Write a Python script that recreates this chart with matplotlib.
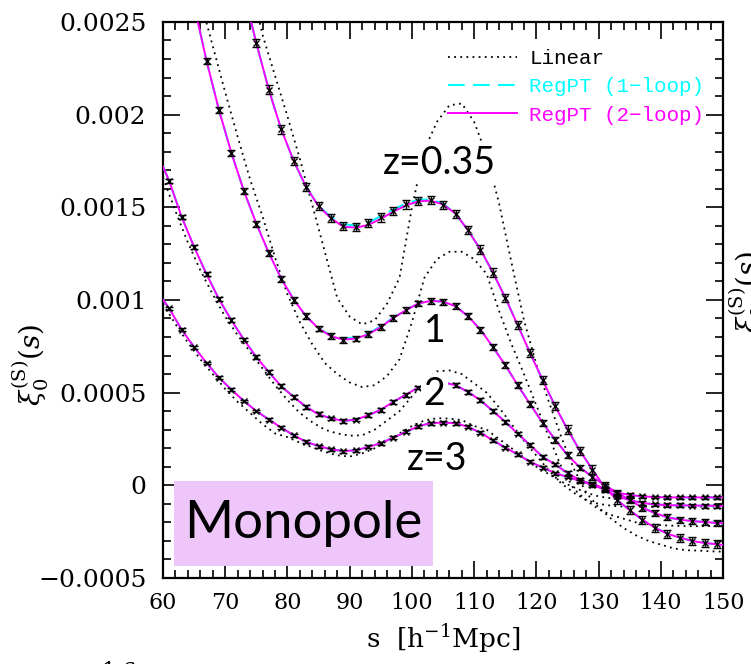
import numpy as np
import matplotlib
matplotlib.use('Agg')
from matplotlib import pyplot as plt
from matplotlib.patches import Rectangle
from matplotlib.ticker import MultipleLocator

# ---- N-body measurements (odd s grid) ----
s_nb_035 = np.arange(75, 150, 2)
xi_nb_035 = [0.002385, 0.002135, 0.00192, 0.00175, 0.00161, 0.001506, 0.00144, 0.0014,
             0.001394, 0.001414, 0.001445, 0.00148, 0.001515, 0.001536, 0.001538, 0.001513,
             0.001466, 0.001376, 0.001272, 0.001148, 0.001012, 0.000863, 0.000712, 0.000567,
             0.000427, 0.000301, 0.000185, 0.000085, -0.000015, -0.00008, -0.000135, -0.000185,
             -0.000228, -0.000261, -0.000282, -0.0003, -0.000311, -0.000318]

s_nb_1 = np.arange(67, 150, 2)
xi_nb_1 = [0.00229, 0.002024, 0.001793, 0.001588, 0.001412, 0.001254, 0.001115, 0.001002,
           0.000912, 0.000846, 0.000804, 0.000786, 0.000792, 0.000815, 0.000854, 0.000903,
           0.000944, 0.000981, 0.000995, 0.000991, 0.000966, 0.000912, 0.00084, 0.000746,
           0.000648, 0.00054, 0.000437, 0.000336, 0.000247, 0.000162, 0.000096, 0.000045,
           0.0, -0.00004, -0.00008, -0.00012, -0.00015, -0.000172, -0.000185, -0.000193,
           -0.000198, -0.000203]

s_nb_2 = np.arange(61, 150, 2)
xi_nb_2 = [0.001642, 0.001448, 0.001286, 0.001139, 0.001004, 0.00089, 0.000786, 0.000692,
           0.000611, 0.000534, 0.000477, 0.000423, 0.000383, 0.000361, 0.000347, 0.000355,
           0.000378, 0.000408, 0.00045, 0.000489, 0.000527, 0.000553, 0.000556, 0.00054,
           0.000504, 0.000459, 0.000401, 0.000342, 0.000279, 0.000216, 0.000153, 0.000113,
           0.000066, 0.000027, 0.0, -0.000023, -0.00006, -0.00008, -0.000095, -0.000103,
           -0.000107, -0.000108, -0.000109, -0.00011, -0.00011]

s_nb_3 = np.arange(61, 150, 2)
xi_nb_3 = [0.000954, 0.00084, 0.000746, 0.00066, 0.000581, 0.000516, 0.000455, 0.000401,
           0.000355, 0.000311, 0.00027, 0.000234, 0.000212, 0.000194, 0.000185, 0.000189,
           0.000207, 0.000228, 0.000257, 0.000288, 0.000318, 0.000336, 0.000338, 0.000336,
           0.000315, 0.000284, 0.000243, 0.000203, 0.000167, 0.000126, 0.000096, 0.000066,
           0.000045, 0.000023, 0.000009, -0.000018, -0.00004, -0.000052, -0.00006, -0.000063,
           -0.000065, -0.000065, -0.000065, -0.000065, -0.000065]

err_035 = 2.2e-5
err_1 = 1.6e-5
err_2 = 1.0e-5
err_3 = 0.8e-5

# ---- RegPT 2-loop (magenta) and 1-loop (cyan) ----
s_m_035 = np.r_[73, np.arange(75, 150, 2), 150]
xi_2l_035 = [0.00266] + xi_nb_035[:7] + [0.001395, 0.00139, 0.001405, 0.001438, 0.001476,
             0.00151, 0.001532, 0.001536, 0.001515] + xi_nb_035[16:] + [-0.000322]
xi_1l_035 = [0.00266] + xi_nb_035[:6] + [0.001448, 0.001408, 0.001402, 0.001418, 0.001452,
             0.001488, 0.00152, 0.00154, 0.001542, 0.00152] + xi_nb_035[16:] + [-0.000322]

s_m_1 = np.r_[65, np.arange(67, 150, 2), 150]
xi_2l_1 = [0.00259] + xi_nb_1 + [-0.000205]
xi_1l_1 = [0.00259] + xi_nb_1[:10] + [0.000808, 0.000792, 0.000798, 0.00082, 0.000858,
           0.000905] + xi_nb_1[16:] + [-0.000205]

s_m_23 = np.r_[60, np.arange(61, 150, 2), 150]
xi_2l_2 = [0.00172] + xi_nb_2 + [-0.00011]
xi_1l_2 = [0.00172] + xi_nb_2 + [-0.00011]
xi_2l_3 = [0.001002] + xi_nb_3 + [-0.000065]
xi_1l_3 = [0.001002] + xi_nb_3 + [-0.000065]

# ---- Linear theory (black dotted, even s grid) ----
s_lin = np.arange(60, 151, 2)
xi_lin_035 = [0.0052, 0.0048, 0.0044, 0.0040, 0.0036, 0.0033, 0.00298, 0.00272, 0.00243,
              0.00221, 0.00199, 0.00176, 0.00151, 0.00126, 0.00101, 0.00091, 0.000868,
              0.00089, 0.00098, 0.00112, 0.0015, 0.00181, 0.00196, 0.00205, 0.00206,
              0.00196, 0.00178, 0.00152, 0.0012, 0.00089, 0.00065, 0.00045, 0.00026,
              0.00009, -0.00004, -0.00012, -0.00018, -0.00023, -0.00027, -0.0003, -0.00032,
              -0.00034, -0.00035, -0.000352, -0.000356, -0.000358]
xi_lin_1 = [0.0036, 0.0033, 0.00298, 0.00262, 0.00237, 0.00212, 0.00188, 0.00165, 0.00145,
            0.00123, 0.00103, 0.00088, 0.00076, 0.00066, 0.0006, 0.000555, 0.00053, 0.00054,
            0.00059, 0.00068, 0.00088, 0.00112, 0.00122, 0.00126, 0.00126, 0.00122, 0.00114,
            0.00094, 0.00076, 0.0006, 0.00043, 0.00026, 0.0001, -0.00002, -0.00008, -0.00013,
            -0.00016, -0.00018, -0.0002, -0.00021, -0.000215, -0.000218, -0.00022, -0.00022,
            -0.00022, -0.00022]
xi_lin_2 = [0.00166, 0.00148, 0.00131, 0.00116, 0.00103, 0.00091, 0.00081, 0.00072, 0.00063,
            0.00054, 0.00046, 0.00039, 0.00034, 0.0003, 0.00028, 0.000268, 0.00027, 0.0003,
            0.00035, 0.0004, 0.00048, 0.00056, 0.000615, 0.00062, 0.0006, 0.00055, 0.0005,
            0.00042, 0.00033, 0.00024, 0.00016, 0.00008, 0.00001, -0.00004, -0.00008, -0.0001,
            -0.00011, -0.000115, -0.000115, -0.000115, -0.000115, -0.000115, -0.000115,
            -0.000115, -0.000115, -0.000115]
xi_lin_3 = [0.00098, 0.00087, 0.00077, 0.00068, 0.0006, 0.00052, 0.00045, 0.00039, 0.00033,
            0.00028, 0.00026, 0.00023, 0.000205, 0.00018, 0.000162, 0.000155, 0.000172, 0.0002,
            0.00024, 0.00028, 0.00032, 0.00035, 0.000362, 0.00036, 0.000352, 0.00032, 0.0003,
            0.00025, 0.0002, 0.00015, 0.0001, 0.00006, 0.00002, -0.00001, -0.00004, -0.00006,
            -0.00007, -0.00007, -0.00007, -0.00007, -0.00007, -0.00007, -0.00007, -0.00007,
            -0.00007, -0.00007]

y_ticks = [-0.0005, 0, 0.0005, 0.001, 0.0015, 0.002, 0.0025]
y_tick_labels = ['\u22120.0005', '0', '0.0005', '0.001', '0.0015', '0.002', '0.0025']
x_ticks = [60, 70, 80, 90, 100, 110, 120, 130, 140, 150]

plt.rcParams['mathtext.fontset'] = 'dejavuserif'

fig = plt.figure(figsize=(7.51, 6.64), dpi=100)
ax = fig.add_axes([0.217, 0.1295, 0.746, 0.8375])

linear_sets = [xi_lin_035, xi_lin_1, xi_lin_2, xi_lin_3]
for i, xi in enumerate(linear_sets):
    ax.plot(s_lin, xi, color='black', linestyle=(0, (1, 2.4)), linewidth=1.3,
            label='Linear' if i == 0 else None, zorder=2)

one_loop = [(s_m_035, xi_1l_035), (s_m_1, xi_1l_1), (s_m_23, xi_1l_2), (s_m_23, xi_1l_3)]
for i, (s, xi) in enumerate(one_loop):
    ax.plot(s, xi, color='cyan', linestyle=(0, (8, 4)), linewidth=1.5,
            label='RegPT (1\u2212loop)' if i == 0 else None, zorder=3)

two_loop = [(s_m_035, xi_2l_035), (s_m_1, xi_2l_1), (s_m_23, xi_2l_2), (s_m_23, xi_2l_3)]
for i, (s, xi) in enumerate(two_loop):
    ax.plot(s, xi, color='magenta', linestyle='-', linewidth=1.4,
            label='RegPT (2\u2212loop)' if i == 0 else None, zorder=4)

nbody = [(s_nb_035, xi_nb_035, err_035), (s_nb_1, xi_nb_1, err_1),
         (s_nb_2, xi_nb_2, err_2), (s_nb_3, xi_nb_3, err_3)]
for s, xi, e in nbody:
    ax.errorbar(s, xi, yerr=e, fmt='x', color='black', ms=5, mew=1.0,
                elinewidth=1.0, capsize=3, capthick=1.0, zorder=5)

# redshift labels
lab_kw = dict(family='Lato', fontsize=27, ha='center', va='center', zorder=6,
              bbox=dict(facecolor='white', edgecolor='none', pad=2))
ax.text(104.4, 0.00174, 'z=0.35', **lab_kw)
ax.text(103.6, 0.00083, '1', **lab_kw)
ax.text(103.6, 0.00049, '2', **lab_kw)
ax.text(104.0, 0.00014, 'z=3', **lab_kw)

# Monopole box
ax.add_patch(Rectangle((0.0196, 0.0216), 0.4624, 0.153, transform=ax.transAxes,
                       facecolor='#efc6fa', edgecolor='none', zorder=6))
ax.text(0.251, 0.098, 'Monopole', transform=ax.transAxes, family='Lato', fontsize=38,
        ha='center', va='center', zorder=7)

leg = ax.legend(loc='upper right', frameon=False, prop={'family': 'Liberation Mono', 'size': 15},
                handlelength=3.3, labelspacing=0.45, handletextpad=0.6,
                bbox_to_anchor=(1.0, 0.985), labelcolor='linecolor')

ax.set_xlim(60, 150)
ax.set_ylim(-0.0005, 0.0025)
ax.set_xticks(x_ticks)
ax.set_xticklabels([str(v) for v in x_ticks])
ax.set_yticks(y_ticks)
ax.set_yticklabels(y_tick_labels)
ax.xaxis.set_minor_locator(MultipleLocator(2))
ax.yaxis.set_minor_locator(MultipleLocator(0.0001))
ax.tick_params(which='both', direction='in', top=True, right=True, width=1.2,
               labelfontfamily='DejaVu Serif')
ax.tick_params(which='major', length=12)
ax.tick_params(which='minor', length=6)
ax.tick_params(axis='x', which='major', pad=10, labelsize=16)
ax.tick_params(axis='y', which='major', pad=12, labelsize=18)
for sp in ax.spines.values():
    sp.set_linewidth(1.6)

ax.set_xlabel('s  [h$^{-1}$Mpc]', family='DejaVu Serif', fontsize=19, labelpad=6)
fig.text(0.04, 0.45, r'$\xi_0^{(\mathrm{S})}(s)$', rotation=90, fontsize=20,
         ha='center', va='center')
# labels of the neighbouring panels, cut by the figure edge
fig.text(0.968, 0.56, r'$\xi_0^{(\mathrm{S})}(s)$', rotation=90, fontsize=20,
         ha='left', va='center')
fig.text(0.158, -0.012, '1.6', family='DejaVu Serif', fontsize=16, ha='center', va='center')

fig.savefig('out.png', dpi=100)
